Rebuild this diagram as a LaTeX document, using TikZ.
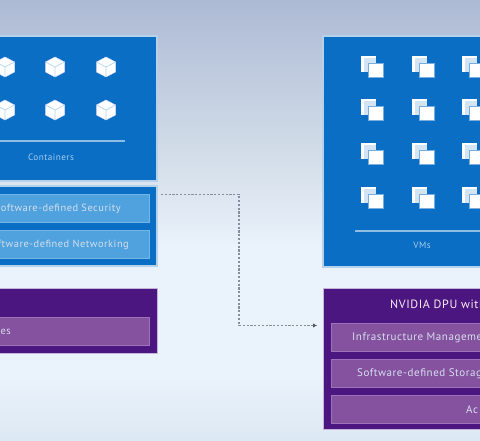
\documentclass[tikz,border=0pt]{standalone}
\usepackage{fontspec}
\setmainfont{PT Sans}
\newfontfamily\spacedfont[LetterSpace=5]{PT Sans}
\usetikzlibrary{arrows.meta}
\definecolor{bluefill}{HTML}{0A6EC4}
\definecolor{blueedge}{HTML}{B4D2EC}
\definecolor{bluein}{HTML}{4FA2DD}
\definecolor{blueinedge}{HTML}{74B6E6}
\definecolor{purplefill}{HTML}{4C1680}
\definecolor{purpleedge}{HTML}{C4B4DC}
\definecolor{purplein}{HTML}{85529F}
\definecolor{purpleinedge}{HTML}{9E72B6}
\definecolor{softtext}{HTML}{D5DFEE}
\definecolor{labeltext}{HTML}{A6CDEE}
\definecolor{rulecol}{HTML}{8DBCE4}
\definecolor{dashcol}{HTML}{858E9B}
\definecolor{bgtop}{HTML}{ADBAD4}
\definecolor{bgmid}{HTML}{D6E0EB}
\definecolor{bglow}{HTML}{EAF2FB}
\definecolor{bgbot}{HTML}{DCE8F3}
\pgfdeclareverticalshading{pagefade}{100bp}{
  color(0bp)=(bgbot);
  color(25bp)=(bgbot);
  color(32bp)=(bglow);
  color(47bp)=(bglow);
  color(56bp)=(bgmid);
  color(75bp)=(bgtop);
  color(100bp)=(bgtop)}
\tikzset{
  x=1pt,y=-1pt,
  bluebox/.style={draw=blueedge,line width=1.4pt,fill=bluefill},
  purplebox/.style={draw=purpleedge,line width=0.8pt,fill=purplefill},
  blueslot/.style={draw=blueinedge,line width=0.7pt,fill=bluein},
  purpleslot/.style={draw=purpleinedge,line width=0.7pt,fill=purplein},
  slottext/.style={text=softtext,font=\spacedfont\fontsize{10.4}{12}\selectfont,inner sep=0pt},
  wideslottext/.style={text=softtext,font=\spacedfont\fontsize{11}{13}\selectfont,inner sep=0pt},
  headtext/.style={text=white!92!purple,font=\spacedfont\fontsize{12}{14}\selectfont,inner sep=0pt},
  tagtext/.style={text=labeltext,font=\spacedfont\fontsize{9.2}{11}\selectfont,inner sep=0pt},
  rulerline/.style={draw=rulecol,line width=1.1pt},
  flow/.style={draw=dashcol,line width=1.1pt,dash pattern=on 2.2pt off 1.6pt,-{Latex[length=4pt,width=4.5pt,color=dashcol!60!black]}},
  pics/cubeicon/.style={code={
    \fill[white,line join=round,draw=white!85!blue,line width=0.5pt]
      (0,-10)--(9.5,-5)--(9.5,5)--(0,10)--(-9.5,5)--(-9.5,-5)--cycle;
    \draw[bluein!45!white,line width=0.7pt] (0,0)--(0,10) (0,0)--(-9.5,-5) (0,0)--(9.5,-5);
  }},
  pics/vmicon/.style={code={
    \fill[white] (0,0) rectangle (15,16);
    \fill[bluefill!18!white] (2.5,2.5) rectangle (15,16);
    \fill[white,draw=bluefill!55!white,line width=0.7pt] (7,7) rectangle (22,21);
  }}
}
\begin{document}
\begin{tikzpicture}
\useasboundingbox (0,0) rectangle (480,441);
\clip (0,0) rectangle (480,441);
\shade[shading=pagefade] (0,0) rectangle (480,441);
% left stack
\node[bluebox,minimum width=177pt,minimum height=145pt,inner sep=0pt] (leftvirt) at (68.5,108.5) {};
\node[bluebox,minimum width=177pt,minimum height=80pt,inner sep=0pt] (leftsoft) at (68.5,226) {};
\node[purplebox,minimum width=177pt,minimum height=65pt,inner sep=0pt] (lefthw) at (68.5,320.5) {};
\node[blueslot,minimum width=168pt,minimum height=28pt,inner sep=0pt] (secslot) at (65,208) {};
\node[blueslot,minimum width=168pt,minimum height=28pt,inner sep=0pt] (netslot) at (65,244) {};
\node[purpleslot,minimum width=168pt,minimum height=28pt,inner sep=0pt] (esslot) at (65,331) {};
\node[slottext,anchor=east] (sectext) at (121,208.5) {Software-defined Security};
\node[slottext,anchor=east] (nettext) at (129,244.5) {Software-defined Networking};
\node[slottext,anchor=east] (estext) at (11,332) {es};
\foreach \cx in {5,55,106} \foreach \cy in {67,110} \pic at (\cx,\cy) {cubeicon};
\coordinate (lrulestart) at (0,141);
\coordinate (lruleend) at (125,141);
\draw[rulerline] (lrulestart) -- (lruleend);
\node[tagtext] (contag) at (51,157.5) {Containers};
% right stack
\node[bluebox,minimum width=180pt,minimum height=231pt,inner sep=0pt] (rightvirt) at (413,151.5) {};
\node[purplebox,minimum width=180pt,minimum height=141pt,inner sep=0pt] (rightdpu) at (413,358.5) {};
\node[purpleslot,minimum width=180pt,minimum height=28pt,inner sep=0pt] (mgmtslot) at (421,337) {};
\node[purpleslot,minimum width=180pt,minimum height=28pt,inner sep=0pt] (storslot) at (421,373) {};
\node[purpleslot,minimum width=180pt,minimum height=28pt,inner sep=0pt] (accslot) at (421,409) {};
\node[headtext,anchor=west] (dputext) at (390,304) {NVIDIA DPU with};
\node[wideslottext,anchor=west] (mgmttext) at (352,338) {Infrastructure Management};
\node[wideslottext,anchor=west] (stortext) at (357,374) {Software-defined Storage};
\node[wideslottext,anchor=west] (acctext) at (466,409.5) {Ac};
\foreach \cx in {361,412,462} \foreach \cy in {56,99,143,187} \pic at (\cx,\cy) {vmicon};
\coordinate (rrulestart) at (355,231);
\coordinate (rruleend) at (480,231);
\draw[rulerline] (rrulestart) -- (rruleend);
\node[tagtext] (vmtag) at (422,245.5) {VMs};
% connector
\coordinate (flowstart) at (161,194.5);
\coordinate (flowend) at (317,325.5);
\draw[flow] (flowstart) -- (239,194.5) -- (239,325.5) -- (flowend);
\end{tikzpicture}
\end{document}
